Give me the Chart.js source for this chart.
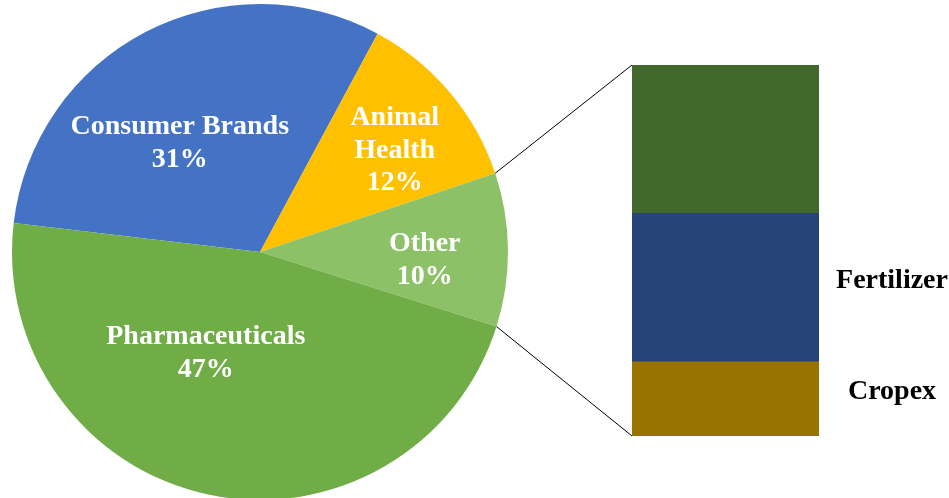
<!DOCTYPE html>
<html>
<head>
<meta charset="utf-8">
<script src="https://cdn.jsdelivr.net/npm/chart.js@4"></script>
<style>
  html, body { margin: 0; padding: 0; background: #fff; overflow: hidden; width: 949px; height: 498px; }
  .layer { position: absolute; left: 0; top: 0; width: 949px; height: 500px; }
</style>
</head>
<body>
<div class="layer"><canvas id="pieChart"></canvas></div>
<div class="layer"><canvas id="barChart"></canvas></div>
<script>
// Data pie utama
const pieLabels = ["Consumer Brands", "Animal Health", "Other", "Pharmaceuticals"];
const pieLines = [["Consumer Brands"], ["Animal", "Health"], ["Other"], ["Pharmaceuticals"]];
const pieValues = [31, 12, 10, 47];
const pieColors = ["#4472C4", "#FFC000", "#8CC168", "#70AD47"];

// Data batang rincian "Other" (dari bawah ke atas)
const barLabels = ["Cropex", "Fertilizer", ""];
const barValues = [2, 4, 4];
const barColors = ["#997300", "#264478", "#43682B"];

// Posisi label di dalam irisan (fraksi radius, geser sudut dalam derajat)
const labelRadius = [0.545, 0.68, 0.665, 0.464];
const labelShift = [-8.9, 3.1, 3.3, 16];

const labelFont = "bold 28px 'Liberation Serif', 'Times New Roman', serif";

// Plugin label pie
const pieLabelPlugin = {
    id: "pieLabels",
    afterDatasetsDraw(chart) {
        const ctx = chart.ctx;
        const arcs = chart.getDatasetMeta(0).data;
        ctx.save();
        ctx.font = labelFont;
        ctx.fillStyle = "#fff";
        ctx.textAlign = "center";
        ctx.textBaseline = "middle";
        arcs.forEach((arc, i) => {
            const mid = (arc.startAngle + arc.endAngle) / 2 + labelShift[i] * Math.PI / 180;
            const r = arc.outerRadius * labelRadius[i];
            const x = arc.x + Math.cos(mid) * r;
            const y = arc.y + Math.sin(mid) * r;
            const lines = pieLines[i].concat([pieValues[i] + "%"]);
            lines.forEach((line, j) => {
                ctx.fillText(line, x, y + (j - (lines.length - 1) / 2) * 32.5);
            });
        });
        ctx.restore();
    }
};

const pieChart = new Chart(document.getElementById("pieChart"), {
    type: "pie",
    data: {
        labels: pieLabels,
        datasets: [{
            data: pieValues,
            backgroundColor: pieColors,
            borderWidth: 0,
        }],
    },
    options: {
        responsive: true,
        maintainAspectRatio: false,
        animation: false,
        rotation: -83.3,
        layout: { padding: { left: 12, top: 4, right: 441, bottom: 0 } },
        plugins: { legend: { display: false }, tooltip: { enabled: false } },
    },
    plugins: [pieLabelPlugin],
});

// Plugin garis penghubung + label batang
const barExtrasPlugin = {
    id: "barExtras",
    afterDatasetsDraw(chart) {
        const ctx = chart.ctx;
        const area = chart.chartArea;
        const other = pieChart.getDatasetMeta(0).data[2];
        ctx.save();

        // Garis dari irisan "Other" ke batang
        ctx.strokeStyle = "#000";
        ctx.lineWidth = 1;
        ctx.beginPath();
        ctx.moveTo(other.x + Math.cos(other.startAngle) * other.outerRadius,
                   other.y + Math.sin(other.startAngle) * other.outerRadius);
        ctx.lineTo(area.left, area.top);
        ctx.moveTo(other.x + Math.cos(other.endAngle) * other.outerRadius,
                   other.y + Math.sin(other.endAngle) * other.outerRadius);
        ctx.lineTo(area.left, area.bottom);
        ctx.stroke();

        // Label segmen di kanan batang
        ctx.font = labelFont;
        ctx.fillStyle = "#000";
        ctx.textAlign = "center";
        ctx.textBaseline = "middle";
        chart.data.datasets.forEach((ds, i) => {
            if (!ds.label) return;
            const bar = chart.getDatasetMeta(i).data[0];
            const cy = (bar.y + bar.base) / 2 - 7;
            ctx.fillText(ds.label, area.right + 73, cy);
        });
        ctx.restore();
    }
};

new Chart(document.getElementById("barChart"), {
    type: "bar",
    data: {
        labels: ["Other"],
        datasets: barValues.map((v, i) => ({
            label: barLabels[i],
            data: [v],
            backgroundColor: barColors[i],
            borderWidth: 0,
            categoryPercentage: 1,
            barPercentage: 1,
        })),
    },
    options: {
        responsive: true,
        maintainAspectRatio: false,
        animation: false,
        layout: { padding: { left: 632, top: 65, right: 130, bottom: 64 } },
        scales: {
            x: { stacked: true, display: false },
            y: { stacked: true, display: false, min: 0, max: 10 },
        },
        plugins: { legend: { display: false }, tooltip: { enabled: false } },
    },
    plugins: [barExtrasPlugin],
});
</script>
</body>
</html>
